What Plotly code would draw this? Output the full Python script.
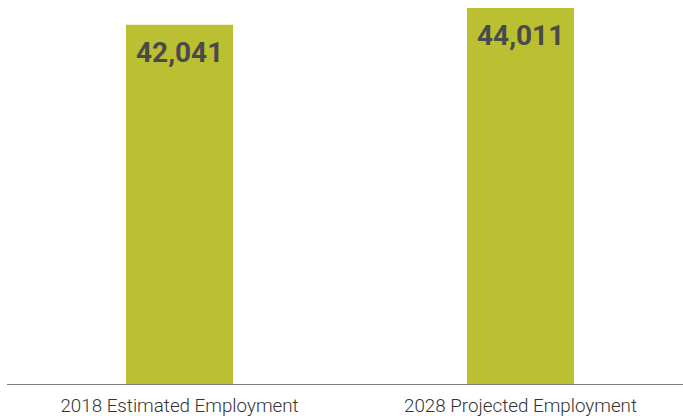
import plotly.graph_objects as go

categories = ["2018 Estimated Employment", "2028 Projected Employment"]
values = [42041, 44011]
value_labels = ["42,041", "44,011"]

bar_color = "#BBBF32"
text_color = "#4A4A4A"

fig = go.Figure()
fig.add_trace(go.Bar(
    x=categories,
    y=values,
    marker=dict(color=bar_color, line=dict(width=0)),
    width=0.314,
    hoverinfo="skip",
))

for c, v, t in zip(categories, values, value_labels):
    fig.add_annotation(
        x=c, y=v, text=t, showarrow=False,
        yanchor="top", xanchor="center", yshift=-9,
        font=dict(family="Roboto", size=28, color=text_color, weight="bold"),
    )

fig.update_layout(
    width=683, height=416,
    margin=dict(l=7, r=0, t=0, b=32),
    paper_bgcolor="white", plot_bgcolor="white",
    showlegend=False,
    font=dict(family="Roboto"),
    xaxis=dict(
        range=[-0.5059, 1.4765],
        showline=True, linecolor="#7F7F7F", linewidth=1.3,
        showgrid=False, zeroline=False, ticks="",
        automargin=False, ticklabelstandoff=4,
        tickfont=dict(family="Roboto", size=18.8, color="#333333", weight=300),
    ),
    yaxis=dict(
        range=[0, 44947],
        visible=False, showgrid=False, zeroline=False,
    ),
)

fig.write_html(
    "out.html",
    config=dict(displayModeBar=False),
    post_script="document.body.style.margin='0';document.body.style.overflow='hidden';",
)
